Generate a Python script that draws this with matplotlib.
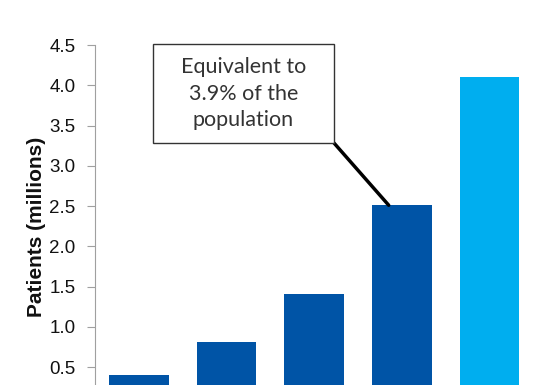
import matplotlib.pyplot as plt
from matplotlib.patches import Rectangle

# bar values (millions of patients), last bar highlighted
categories = ["A", "B", "C", "D", "E"]
patients = [0.40, 0.81, 1.41, 2.51, 4.10]
colors = ["#0054a6", "#0054a6", "#0054a6", "#0054a6", "#00aeef"]
yticks = [0.5, 1.0, 1.5, 2.0, 2.5, 3.0, 3.5, 4.0, 4.5]
note = "Equivalent to\n3.9% of the\npopulation"

fig = plt.figure(figsize=(5.58, 3.85), dpi=100)
ax = fig.add_axes([0.170, 0.0, 0.786, 0.883])

x = range(len(categories))
ax.bar(x, patients, width=0.68, color=colors)
ax.set_xlim(-0.5, len(categories) - 0.5)
ax.set_ylim(0.277, 4.5)
ax.set_yticks(yticks)
ax.set_yticklabels([f"{t:.1f}" for t in yticks], fontsize=13.5,
                   family="Liberation Sans", color="#111111")
ax.set_xticks([])
ax.tick_params(axis="y", length=6, color="#a0a0a0", pad=8)
for s in ["top", "right", "bottom"]:
    ax.spines[s].set_visible(False)
ax.spines["left"].set_color("#a0a0a0")
ax.set_ylabel("Patients (millions)", fontsize=15, fontweight="bold",
              family="Liberation Sans", color="#111111")
ax.yaxis.set_label_coords(-0.112, 0.465)

# callout box with connector to the fourth bar
box_l, box_b, box_w, box_h = 153 / 558, 1 - 143 / 385, 181 / 558, 99 / 385
fig.patches.append(Rectangle((box_l, box_b), box_w, box_h, transform=fig.transFigure,
                             facecolor="white", edgecolor="#333333", lw=1.0))
fig.text(box_l + box_w / 2, box_b + box_h / 2, note, ha="center", va="center",
         fontsize=15.5, family="Lato", color="#333333", linespacing=1.4)
ax.annotate("", xy=(2.85, patients[3]), xycoords="data",
            xytext=(box_l + box_w, box_b), textcoords="figure fraction",
            arrowprops=dict(arrowstyle="-", lw=2.5, color="black",
                            shrinkA=0, shrinkB=0))

fig.savefig("out.png", dpi=100)
